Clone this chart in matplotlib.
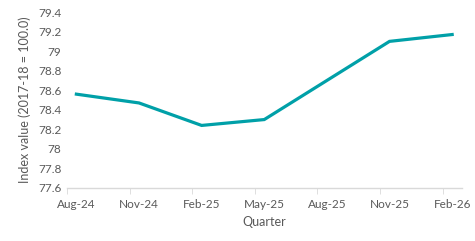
import matplotlib
matplotlib.use("Agg")
import matplotlib.pyplot as plt

categories = ["Aug-24", "Nov-24", "Feb-25", "May-25", "Aug-25", "Nov-25", "Feb-26"]
values = [78.56, 78.47, 78.24, 78.30, 78.70, 79.10, 79.17]
yticks = [77.6, 77.8, 78.0, 78.2, 78.4, 78.6, 78.8, 79.0, 79.2, 79.4]
ytick_labels = ["77.6", "77.8", "78", "78.2", "78.4", "78.6", "78.8", "79", "79.2", "79.4"]

plt.rcParams['font.family'] = ['Lato', 'DejaVu Sans']
text_color = "#595959"

fig = plt.figure(figsize=(4.75, 2.41), dpi=100)
ax = fig.add_axes([0.141, 0.22, 0.832, 0.73])

x = list(range(len(categories)))
ax.plot(x, values, color="#00A0A8", linewidth=2.3, solid_joinstyle="miter")

ax.set_xlim(-0.15, 6.16)
ax.set_ylim(77.6, 79.4)
ax.set_yticks(yticks)
ax.set_yticklabels(ytick_labels, fontsize=8.5, color=text_color)
ax.set_xticks(x)
ax.set_xticklabels(categories, fontsize=8.5, color=text_color)
ax.set_xticks([i - 0.15 for i in x], minor=True)
ax.tick_params(axis='x', which='major', length=0, pad=8)
ax.tick_params(axis='x', which='minor', length=4, color="#D9D9D9", direction='out')
ax.tick_params(axis='y', length=0, pad=4)

for s in ["top", "right", "left"]:
    ax.spines[s].set_visible(False)
ax.spines["bottom"].set_color("#D9D9D9")
ax.spines["bottom"].set_linewidth(1.0)

ax.set_ylabel("Index value (2017-18 = 100.0)", fontsize=9, color=text_color, labelpad=5)
ax.set_xlabel("Quarter", fontsize=9, color=text_color, labelpad=4)

fig.savefig("out.png", dpi=100)
